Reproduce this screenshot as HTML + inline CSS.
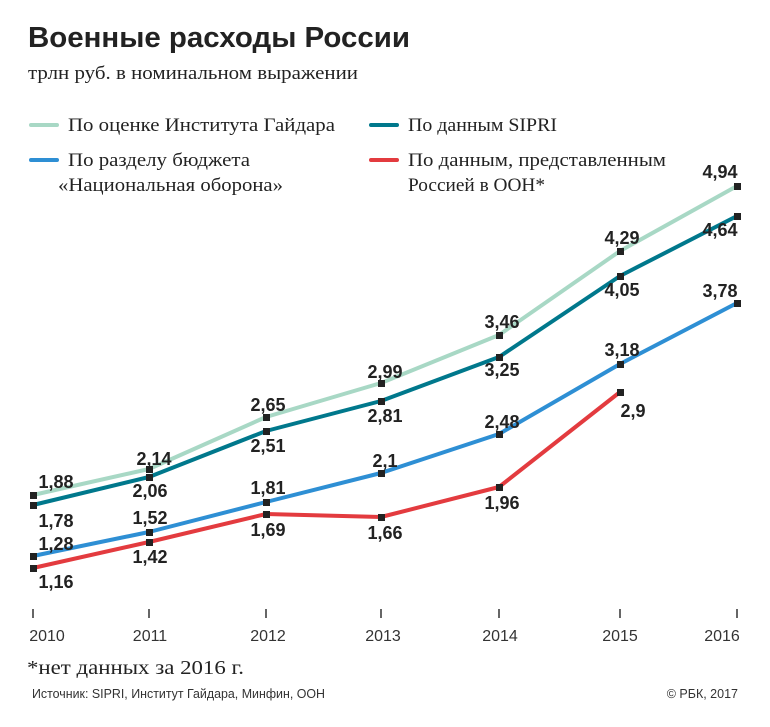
<!DOCTYPE html>
<html><head><meta charset="utf-8"><style>
body{margin:0;background:#fff;}
svg{display:block;}
.t{font-family:"Liberation Sans",sans-serif;}
.s{font-family:"Liberation Serif",serif;}
.v{font-family:"Liberation Sans",sans-serif;font-weight:bold;font-size:18px;fill:#222;text-anchor:middle;dominant-baseline:central;}
.y{font-family:"Liberation Sans",sans-serif;font-size:16px;fill:#333;text-anchor:middle;}
</style></head><body>
<svg width="770" height="727" viewBox="0 0 770 727">
<text x="28" y="47" class="t" font-size="29" font-weight="bold" fill="#222" textLength="382" lengthAdjust="spacingAndGlyphs">Военные расходы России</text>
<text x="28" y="79" class="s" font-size="19" fill="#222" textLength="330" lengthAdjust="spacingAndGlyphs">трлн руб. в номинальном выражении</text>
<g stroke-width="4" stroke-linecap="round">
<line x1="31" y1="125" x2="57" y2="125" stroke="#a8d8c5"/>
<line x1="371" y1="125" x2="397" y2="125" stroke="#00788c"/>
<line x1="31" y1="160" x2="57" y2="160" stroke="#2e8fd4"/>
<line x1="371" y1="160" x2="397" y2="160" stroke="#e33b3f"/>
</g>
<g class="s" font-size="19" fill="#222" lengthAdjust="spacingAndGlyphs">
<text x="68" y="131" textLength="267" lengthAdjust="spacingAndGlyphs">По оценке Института Гайдара</text>
<text x="408" y="131" textLength="149" lengthAdjust="spacingAndGlyphs">По данным SIPRI</text>
<text x="68" y="166" textLength="182" lengthAdjust="spacingAndGlyphs">По разделу бюджета</text>
<text x="58" y="191" textLength="225" lengthAdjust="spacingAndGlyphs">«Национальная оборона»</text>
<text x="408" y="166" textLength="258" lengthAdjust="spacingAndGlyphs">По данным, представленным</text>
<text x="408" y="191" textLength="137" lengthAdjust="spacingAndGlyphs">Россией в ООН*</text>
</g>
<g fill="none" stroke-width="4" stroke-linejoin="round">
<polyline stroke="#a8d8c5" points="33,495 149,469 266,417 381,383 499,335 620,251 737,186"/>
<polyline stroke="#00788c" points="33,505 149,477 266,431 381,401 499,357 620,276 737,216"/>
<polyline stroke="#2e8fd4" points="33,556 149,532 266,502 381,473 499,434 620,364 737,303"/>
<polyline stroke="#e33b3f" points="33,568 149,542 266,514 381,517 499,487 620,392"/>
</g>
<g fill="#222">
<rect x="30" y="492" width="7" height="7"/><rect x="146" y="466" width="7" height="7"/><rect x="263" y="414" width="7" height="7"/><rect x="378" y="380" width="7" height="7"/><rect x="496" y="332" width="7" height="7"/><rect x="617" y="248" width="7" height="7"/><rect x="734" y="183" width="7" height="7"/>
<rect x="30" y="502" width="7" height="7"/><rect x="146" y="474" width="7" height="7"/><rect x="263" y="428" width="7" height="7"/><rect x="378" y="398" width="7" height="7"/><rect x="496" y="354" width="7" height="7"/><rect x="617" y="273" width="7" height="7"/><rect x="734" y="213" width="7" height="7"/>
<rect x="30" y="553" width="7" height="7"/><rect x="146" y="529" width="7" height="7"/><rect x="263" y="499" width="7" height="7"/><rect x="378" y="470" width="7" height="7"/><rect x="496" y="431" width="7" height="7"/><rect x="617" y="361" width="7" height="7"/><rect x="734" y="300" width="7" height="7"/>
<rect x="30" y="565" width="7" height="7"/><rect x="146" y="539" width="7" height="7"/><rect x="263" y="511" width="7" height="7"/><rect x="378" y="514" width="7" height="7"/><rect x="496" y="484" width="7" height="7"/><rect x="617" y="389" width="7" height="7"/>
</g>
<text class="v" x="56" y="482">1,88</text><text class="v" x="56" y="521">1,78</text><text class="v" x="56" y="544">1,28</text><text class="v" x="56" y="582">1,16</text>
<text class="v" x="154" y="459">2,14</text><text class="v" x="150" y="491">2,06</text><text class="v" x="150" y="518">1,52</text><text class="v" x="150" y="557">1,42</text>
<text class="v" x="268" y="405">2,65</text><text class="v" x="268" y="446">2,51</text><text class="v" x="268" y="488">1,81</text><text class="v" x="268" y="530">1,69</text>
<text class="v" x="385" y="372">2,99</text><text class="v" x="385" y="416">2,81</text><text class="v" x="385" y="461">2,1</text><text class="v" x="385" y="533">1,66</text>
<text class="v" x="502" y="322">3,46</text><text class="v" x="502" y="370">3,25</text><text class="v" x="502" y="422">2,48</text><text class="v" x="502" y="503">1,96</text>
<text class="v" x="622" y="238">4,29</text><text class="v" x="622" y="290">4,05</text><text class="v" x="622" y="350">3,18</text><text class="v" x="633" y="411">2,9</text>
<text class="v" x="720" y="172">4,94</text><text class="v" x="720" y="230">4,64</text><text class="v" x="720" y="291">3,78</text>
<g stroke="#333" stroke-width="1.5">
<line x1="33" y1="609" x2="33" y2="618"/><line x1="149" y1="609" x2="149" y2="618"/><line x1="266" y1="609" x2="266" y2="618"/><line x1="381" y1="609" x2="381" y2="618"/><line x1="499" y1="609" x2="499" y2="618"/><line x1="620" y1="609" x2="620" y2="618"/><line x1="737" y1="609" x2="737" y2="618"/>
</g>
<text class="y" x="47" y="641">2010</text><text class="y" x="150" y="641">2011</text><text class="y" x="268" y="641">2012</text><text class="y" x="383" y="641">2013</text><text class="y" x="500" y="641">2014</text><text class="y" x="620" y="641">2015</text><text class="y" x="722" y="641">2016</text>
<text x="27" y="674" class="s" font-size="20" fill="#222" textLength="217" lengthAdjust="spacingAndGlyphs">*нет данных за 2016 г.</text>
<text x="32" y="698" class="t" font-size="12.5" fill="#333" textLength="293" lengthAdjust="spacingAndGlyphs">Источник: SIPRI, Институт Гайдара, Минфин, ООН</text>
<text x="738" y="698" class="t" font-size="12.5" fill="#333" text-anchor="end">© РБК, 2017</text>
</svg>
</body></html>
